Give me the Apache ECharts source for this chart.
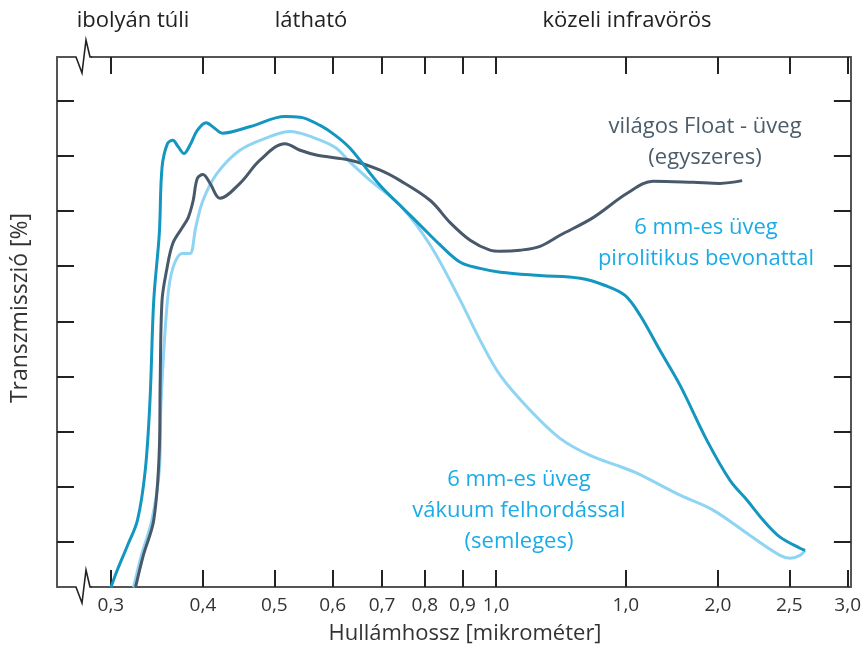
<!DOCTYPE html>
<html>
<head>
<meta charset="utf-8">
<script src="https://cdn.jsdelivr.net/npm/echarts@6/dist/echarts.min.js"></script>
<style>
  html, body { margin: 0; padding: 0; background: #fff; }
  #chart { width: 864px; height: 655px; }
</style>
</head>
<body>
<div id="chart"></div>
<script>
// x axis ticks (wavelength, micrometre) and their printed labels
const tickValues = [0.3, 0.4, 0.5, 0.6, 0.7, 0.8, 0.9, 1.0, 1.5, 2.0, 2.5, 3.0]
const tickLabels = ['0,3', '0,4', '0,5', '0,6', '0,7', '0,8', '0,9', '1,0', '1,0', '2,0', '2,5', '3,0']
const yTicks = [10, 20, 30, 40, 50, 60, 70, 80, 90]

// 6 mm-es üveg pirolitikus bevonattal
const pyroWl = [0.300, 0.306, 0.316, 0.326, 0.334, 0.339, 0.343, 0.349, 0.352, 0.358, 0.364, 0.370, 0.377, 0.384, 0.393, 0.404, 0.414, 0.425, 0.464, 0.517, 0.542, 0.577, 0.605, 0.634, 0.696, 0.741, 0.789, 0.840, 0.894, 0.951, 1.013, 1.147, 1.300, 1.406, 1.496, 1.568, 1.669, 1.777, 1.933, 2.077, 2.191, 2.303, 2.429, 2.585, 2.626]
const pyroT = [1.8, 4.9, 9.4, 14.0, 23.0, 35.7, 53.8, 65.9, 77.9, 82.2, 82.8, 81.7, 80.4, 81.9, 84.6, 86.0, 85.1, 84.1, 85.3, 87.1, 87.0, 85.5, 83.7, 81.3, 74.6, 71.0, 67.4, 63.8, 60.7, 59.6, 58.9, 58.3, 57.8, 56.5, 54.7, 51.1, 44.7, 38.4, 28.4, 21.2, 17.6, 14.0, 10.9, 8.9, 8.5]

// 6 mm-es üveg vákuum felhordással (semleges)
const vacWl = [0.322, 0.330, 0.341, 0.349, 0.351, 0.358, 0.364, 0.375, 0.384, 0.391, 0.400, 0.418, 0.449, 0.489, 0.525, 0.565, 0.605, 0.634, 0.675, 0.741, 0.814, 0.894, 0.951, 1.013, 1.112, 1.221, 1.341, 1.473, 1.553, 1.777, 1.970, 2.211, 2.429, 2.506, 2.585, 2.626]
const vacT = [1.8, 7.6, 14.0, 23.0, 35.7, 53.8, 59.6, 62.3, 62.3, 67.0, 71.9, 76.8, 81.0, 83.3, 84.4, 83.3, 81.5, 78.8, 75.5, 71.0, 63.8, 53.8, 46.6, 40.2, 33.9, 28.8, 25.7, 23.7, 22.5, 18.5, 15.8, 11.2, 7.6, 7.1, 7.6, 8.5]

// világos Float - üveg (egyszeres)
const floatWl = [0.324, 0.332, 0.343, 0.349, 0.350, 0.352, 0.357, 0.364, 0.375, 0.382, 0.388, 0.393, 0.400, 0.409, 0.422, 0.449, 0.478, 0.517, 0.542, 0.572, 0.634, 0.696, 0.741, 0.814, 0.866, 0.922, 0.981, 1.013, 1.078, 1.147, 1.221, 1.354, 1.506, 1.633, 1.851, 2.013, 2.157]
const floatT = [1.8, 7.6, 14.0, 26.6, 39.3, 53.8, 59.2, 64.1, 67.0, 68.8, 71.9, 75.9, 76.6, 75.0, 72.3, 75.0, 79.2, 82.2, 81.0, 80.1, 79.2, 77.4, 75.5, 71.9, 67.9, 64.7, 62.9, 62.7, 62.9, 63.6, 65.6, 68.8, 73.2, 75.4, 75.2, 75.0, 75.5]

const zip = (xs, ys) => xs.map((x, i) => [x, ys[i]])

const FONT = '"Open Sans", "Noto Sans", sans-serif'
const AXIS_GREY = '#555'
const TICK = '#222'
const LIGHT_TEXT = '#1aace6'
const DARK_TEXT = '#4b5d6a'

const chart = echarts.init(document.getElementById('chart'))

const gridLeft = 57
const gridTop = 57
const gridBottomY = 587

function labelFor (val) {
  for (let i = 0; i < tickValues.length; i++) {
    if (Math.abs(tickValues[i] - val) < 1e-6) return tickLabels[i]
  }
  return ''
}

function xAxisBase (position) {
  return {
    type: 'log',
    logBase: 10,
    position: position,
    min: 0.2535,
    max: 3.03,
    axisLine: { show: true, lineStyle: { color: AXIS_GREY, width: 2 } },
    axisTick: {
      show: true,
      inside: true,
      length: 17,
      customValues: tickValues,
      lineStyle: { color: TICK, width: 2 }
    },
    minorTick: { show: false },
    splitLine: { show: false },
    minorSplitLine: { show: false }
  }
}

function yAxisBase (position) {
  return {
    type: 'value',
    position: position,
    min: 1.87,
    max: 97.9,
    axisLine: { show: true, lineStyle: { color: AXIS_GREY, width: 2 } },
    axisTick: {
      show: true,
      inside: true,
      length: 17,
      customValues: yTicks,
      lineStyle: { color: TICK, width: 2 }
    },
    axisLabel: { show: false },
    splitLine: { show: false }
  }
}

const bottomX = xAxisBase('bottom')
bottomX.axisLabel = {
  show: true,
  customValues: tickValues,
  margin: 9,
  fontFamily: FONT,
  fontSize: 19,
  color: '#333',
  formatter: labelFor
}
const topX = xAxisBase('top')
topX.axisLabel = { show: false }

const leftY = yAxisBase('left')
const rightY = yAxisBase('right')

function lineSeries (name, data, color, z) {
  return {
    name: name,
    type: 'line',
    data: data,
    smooth: 0.35,
    showSymbol: false,
    symbol: 'none',
    lineStyle: { color: color, width: 3 },
    z: z
  }
}

// zig-zag axis break marks
function breakMark (y) {
  return [
    {
      type: 'rect',
      shape: { x: 74, y: y - 3, width: 17, height: 6 },
      style: { fill: '#fff' },
      z: 100
    },
    {
      type: 'polyline',
      shape: { points: [[74, y], [76, y], [82, y + 16], [86, y - 17], [90, y], [92, y]] },
      style: { stroke: TICK, lineWidth: 1.6, fill: null },
      z: 101
    }
  ]
}

function text (str, x, y, color, size, rotation) {
  return {
    type: 'text',
    x: x,
    y: y,
    rotation: rotation || 0,
    z: 110,
    style: {
      text: str,
      fill: color,
      font: size + 'px ' + FONT,
      align: 'center',
      verticalAlign: 'middle',
      lineHeight: 31
    }
  }
}

const option = {
  backgroundColor: '#fff',
  animation: false,
  grid: { left: gridLeft, right: 13, top: gridTop, bottom: 655 - gridBottomY },
  xAxis: [bottomX, topX],
  yAxis: [leftY, rightY],
  series: [
    lineSeries('6 mm-es üveg vákuum felhordással', zip(vacWl, vacT), '#8fd4f3', 3),
    lineSeries('világos Float - üveg', zip(floatWl, floatT), '#47596a', 4),
    lineSeries('6 mm-es üveg pirolitikus bevonattal', zip(pyroWl, pyroT), '#1396bf', 5)
  ],
  graphic: [
    ...breakMark(gridTop),
    ...breakMark(gridBottomY),
    text('ibolyán túli', 133, 21, '#222', 22),
    text('látható', 311, 21, '#222', 22),
    text('közeli infravörös', 627, 21, '#222', 22),
    text('Hullámhossz [mikrométer]', 465, 634, '#333', 22),
    text('Transzmisszió [%]', 20, 308, '#333', 23, Math.PI / 2),
    text('világos Float - üveg\n(egyszeres)', 705, 142, DARK_TEXT, 22),
    text('6 mm-es üveg\npirolitikus bevonattal', 706, 243, LIGHT_TEXT, 22),
    text('6 mm-es üveg\nvákuum felhordással\n(semleges)', 519, 511, LIGHT_TEXT, 22)
  ]
}

chart.setOption(option)
</script>
</body>
</html>
